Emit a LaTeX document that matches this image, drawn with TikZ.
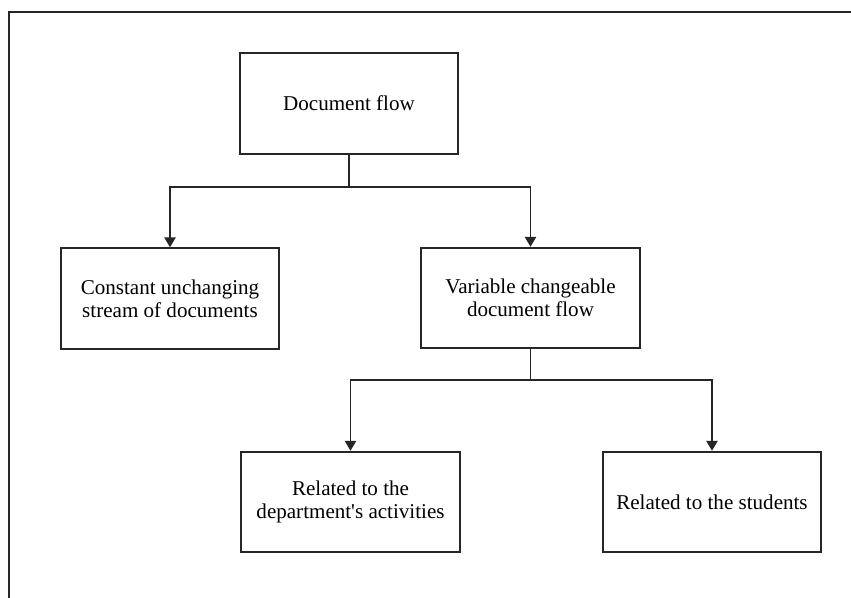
\documentclass[tikz,border=0pt]{standalone}
\usepackage{fontspec}
\setmainfont{Liberation Serif}
\usetikzlibrary{arrows.meta}

\tikzset{
  flowbox/.style={draw=black!85, line width=1.3pt, minimum width=164pt, minimum height=75.5pt, inner sep=0pt, align=center, font=\fontsize{15.8}{17.2}\selectfont},
  flowline/.style={draw=black!85, line width=1.3pt},
  flowarrow/.style={flowline, -{Triangle[length=7.5pt,width=8.5pt]}}
}

\begin{document}
\begin{tikzpicture}[x=0.75pt,y=0.75pt,yscale=-1,xscale=1]
\useasboundingbox (0,0) rectangle (851,598);

%Frame
\draw [line width=1pt, black!85] (9,598) -- (9,12) -- (851,12) ;

% Boxes
\node [flowbox] (doc) at (349,103.5) {Document flow};
\node [flowbox] (const) at (170,298.5) {Constant unchanging\\stream of documents};
\node [flowbox] (var) at (530.5,298) {Variable changeable\\document flow};
\node [flowbox] (dept) at (350.5,502) {Related to the\\department\textquotesingle s activities};
\node [flowbox] (stud) at (712,502) {Related to the students};

% Branch points
\coordinate (j1) at (349,187);
\coordinate (j2) at (530.5,380);

% Connectors
\draw [flowline] (doc.south) -- (j1) ;
\draw [flowarrow] (j1) -| (const.north) ;
\draw [flowarrow] (j1) -| (var.north) ;
\draw [flowline] (var.south) -- (j2) ;
\draw [flowarrow] (j2) -| (dept.north) ;
\draw [flowarrow] (j2) -| (stud.north) ;

\end{tikzpicture}
\end{document}
